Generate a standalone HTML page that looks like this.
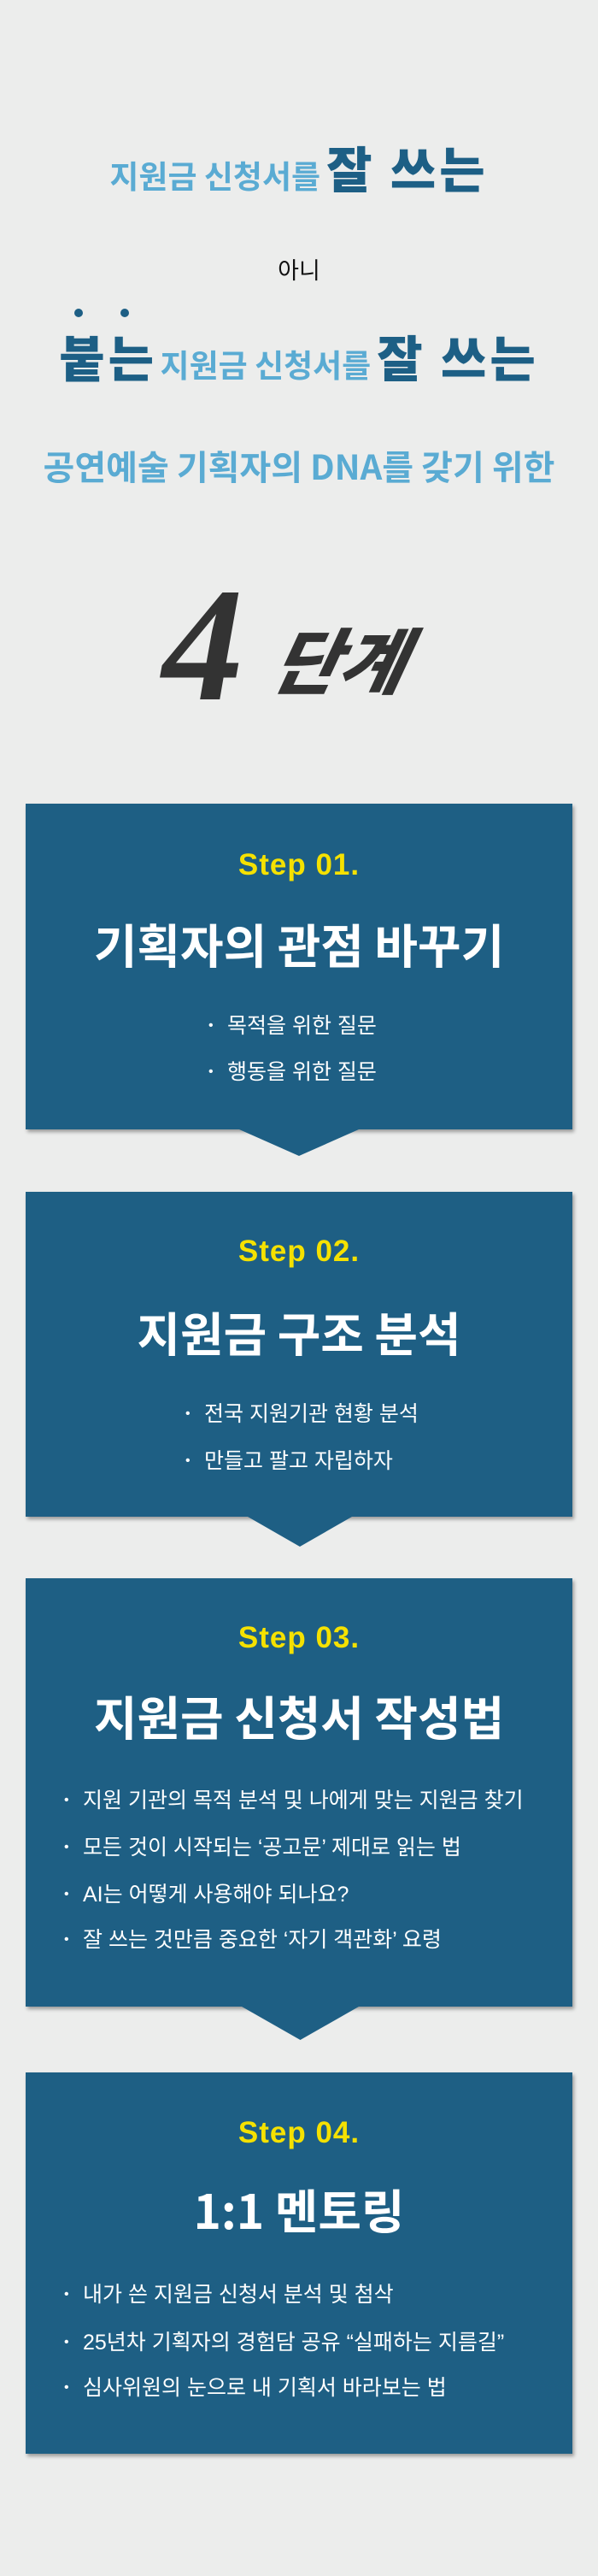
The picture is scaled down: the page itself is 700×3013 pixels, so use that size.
<!DOCTYPE html>
<html><head><meta charset="utf-8"><style>
*{margin:0;padding:0;box-sizing:border-box}
body{width:700px;height:3013px;background:#ecedec;position:relative;overflow:hidden;font-family:"Liberation Sans","Noto Sans CJK KR",sans-serif}
.t{position:absolute;left:0;width:700px;text-align:center;white-space:nowrap}
.lb{color:#5aabd3;font-weight:700}
.db{color:#1d5f85;font-weight:900;letter-spacing:4px}
.box{position:absolute;left:30px;width:640px;background:#1e5f84;box-shadow:2px 3px 4px rgba(0,0,0,.35)}
.arr{position:absolute;background:#1e5f84;clip-path:polygon(0 0,100% 0,50% 100%)}
.step{color:#f5e100;font-weight:700;font-size:35px;line-height:40px;letter-spacing:1px}
.title{color:#fff;font-weight:700;font-size:55px;line-height:64px;font-family:"Noto Sans CJK KR","Liberation Sans",sans-serif}
.b{position:absolute;color:#fff;font-size:25px;line-height:32px;white-space:nowrap;font-family:"Liberation Sans","Noto Sans CJK KR",sans-serif}
.b:before{content:"•";position:absolute;left:-22px;font-size:16px}
.dot{position:absolute;width:10px;height:10px;border-radius:50%;background:#1d5f85}
</style></head><body>

<div class="t" style="top:165px;line-height:60px;font-family:'Noto Sans CJK KR',sans-serif"><span class="lb" style="font-size:37px">지원금 신청서를</span>&nbsp;&nbsp;<span class="db" style="font-size:58px">잘 쓰는</span></div>

<div class="t" style="top:299px;font-size:27px;line-height:32px;color:#111;font-family:'Noto Sans CJK KR',sans-serif">아니</div>

<div class="dot" style="left:87px;top:361px"></div>
<div class="dot" style="left:141px;top:361px"></div>
<div class="t" style="top:386px;line-height:60px;font-family:'Noto Sans CJK KR',sans-serif"><span class="db" style="font-size:58px">붙는</span> <span class="lb" style="font-size:37px">지원금 신청서를</span>&nbsp;&nbsp;<span class="db" style="font-size:58px">잘 쓰는</span></div>

<div class="t lb" style="top:520px;font-size:40px;line-height:48px;font-family:'Noto Sans CJK KR',sans-serif">공연예술 기획자의 DNA를 갖기 위한</div>

<div style="position:absolute;left:190px;top:655px;font-size:190px;line-height:200px;font-weight:900;font-style:italic;color:#333;font-family:'Liberation Serif',serif">4</div>
<div style="position:absolute;left:322px;top:715px;font-size:84px;line-height:110px;font-weight:900;font-style:italic;color:#333;font-family:'Noto Sans CJK KR',sans-serif;transform:skewX(-12deg)">단계</div>

<!-- Box 1 -->
<div class="box" style="top:940px;height:381px"></div>
<div class="arr" style="left:280px;top:1321px;width:140px;height:31px"></div>
<div class="t step" style="top:992px">Step 01.</div>
<div class="t title" style="top:1071px">기획자의 관점 바꾸기</div>
<div class="b" style="left:266px;top:1184px">목적을 위한 질문</div>
<div class="b" style="left:266px;top:1238px">행동을 위한 질문</div>

<!-- Box 2 -->
<div class="box" style="top:1394px;height:380px"></div>
<div class="arr" style="left:290px;top:1774px;width:122px;height:35px"></div>
<div class="t step" style="top:1444px">Step 02.</div>
<div class="t title" style="top:1525px">지원금 구조 분석</div>
<div class="b" style="left:239px;top:1638px">전국 지원기관 현황 분석</div>
<div class="b" style="left:239px;top:1693px">만들고 팔고 자립하자</div>

<!-- Box 3 -->
<div class="box" style="top:1846px;height:501px"></div>
<div class="arr" style="left:283px;top:2347px;width:137px;height:39px"></div>
<div class="t step" style="top:1896px">Step 03.</div>
<div class="t title" style="top:1974px">지원금 신청서 작성법</div>
<div class="b" style="left:97px;top:2090px">지원 기관의 목적 분석 및 나에게 맞는 지원금 찾기</div>
<div class="b" style="left:97px;top:2145px">모든 것이 시작되는 ‘공고문’ 제대로 읽는 법</div>
<div class="b" style="left:97px;top:2200px">AI는 어떻게 사용해야 되나요?</div>
<div class="b" style="left:97px;top:2253px">잘 쓰는 것만큼 중요한 ‘자기 객관화’ 요령</div>

<!-- Box 4 -->
<div class="box" style="top:2424px;height:446px"></div>
<div class="t step" style="top:2475px">Step 04.</div>
<div class="t title" style="top:2551px">1:1 멘토링</div>
<div class="b" style="left:97px;top:2668px">내가 쓴 지원금 신청서 분석 및 첨삭</div>
<div class="b" style="left:97px;top:2724px">25년차 기획자의 경험담 공유 “실패하는 지름길”</div>
<div class="b" style="left:97px;top:2777px">심사위원의 눈으로 내 기획서 바라보는 법</div>

</body></html>
